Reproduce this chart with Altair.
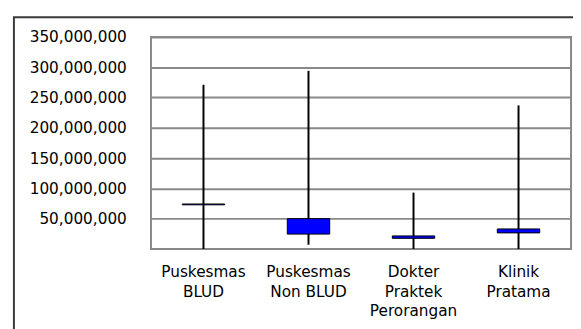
import altair as alt
import pandas as pd

categories = ["Puskesmas BLUD", "Puskesmas Non BLUD", "Dokter Praktek Perorangan", "Klinik Pratama"]
whisker_low = [0, 7_000_000, 0, 0]
whisker_high = [271_000_000, 294_000_000, 93_000_000, 237_000_000]
box_low = [72_800_000, 24_500_000, 17_500_000, 26_500_000]
box_high = [74_200_000, 50_000_000, 21_500_000, 33_000_000]
y_ticks = [50_000_000, 100_000_000, 150_000_000, 200_000_000, 250_000_000, 300_000_000, 350_000_000]

df = pd.DataFrame({
    "cat": categories,
    "lo": whisker_low,
    "hi": whisker_high,
    "q1": box_low,
    "q3": box_high,
})

FONT = "DejaVu Sans"

x_axis = alt.Axis(
    title=None,
    labelAngle=0,
    labelExpr="datum.value == 'Puskesmas Non BLUD' ? ['Puskesmas', 'Non BLUD'] : split(datum.value, ' ')",
    labelFont=FONT,
    labelFontSize=15.5,
    labelColor="#000000",
    labelLineHeight=20,
    labelPadding=16,
    labelBaseline="top",
    ticks=False,
    domain=False,
    grid=False,
)

y_axis = alt.Axis(
    title=None,
    values=y_ticks,
    format=",.0f",
    labelFont=FONT,
    labelFontSize=15.5,
    labelColor="#000000",
    labelPadding=25,
    labelOverlap=False,
    ticks=False,
    domain=False,
    grid=True,
    gridColor="#8a8a8a",
    gridWidth=2,
)

x_scale = alt.Scale(paddingInner=0, paddingOuter=0)
y_scale = alt.Scale(domain=[0, 350_000_000], nice=False)

base = alt.Chart(df)

whiskers = base.mark_rule(color="#000000", strokeWidth=2).encode(
    x=alt.X("cat:N", sort=categories, scale=x_scale, axis=x_axis),
    y=alt.Y("lo:Q", scale=y_scale, axis=y_axis),
    y2="hi:Q",
)

boxes = base.mark_bar(size=43, color="#0000FF", stroke="#000000", strokeWidth=1).encode(
    x=alt.X("cat:N", sort=categories, scale=x_scale, axis=x_axis),
    y=alt.Y("q1:Q", scale=y_scale, axis=y_axis),
    y2="q3:Q",
)

frame = alt.Chart(pd.DataFrame({"a": [0]})).mark_rect(
    fillOpacity=0, stroke="#3a3a3a", strokeWidth=2
).encode(
    x=alt.value(-139),
    x2=alt.value(700),
    y=alt.value(-20),
    y2=alt.value(500),
)

chart = (
    alt.layer(whiskers, boxes, frame)
    .properties(
        width=426,
        height=215,
        autosize=alt.AutoSizeParams(type="none"),
        padding={"left": 145, "top": 27, "right": 2, "bottom": 90},
    )
    .configure_view(stroke="#888888", strokeWidth=2)
)

chart.save("out.html", embed_options={"renderer": "svg", "actions": False})
